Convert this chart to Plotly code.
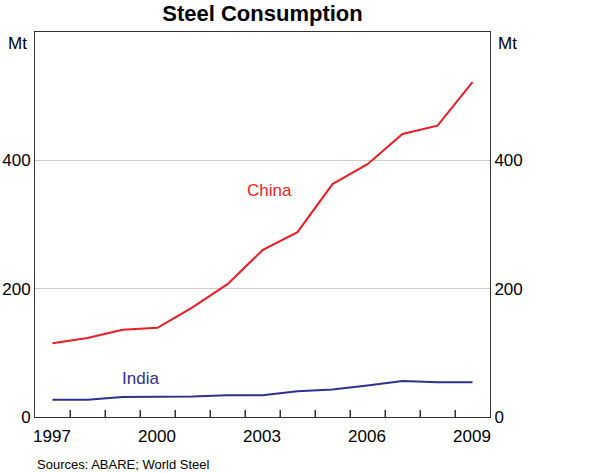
import plotly.graph_objects as go

years = [1997, 1998, 1999, 2000, 2001, 2002, 2003, 2004, 2005, 2006, 2007, 2008, 2009]
china = [115, 123, 136, 139, 171, 207, 260, 288, 363, 394, 441, 454, 522]
india = [27, 27, 31, 31, 32, 34, 34, 40, 43, 49, 56, 54, 54]
x_labels = ["1997", "2000", "2003", "2006", "2009"]
y_ticks = [0, 200, 400]

RED = "#ed1c24"
BLUE = "#2e3192"
FONT = "Liberation Sans, Arial, sans-serif"

xmid = [y + 0.5 for y in years]
xtext = [str(y) if str(y) in x_labels else "" for y in years]

fig = go.Figure()
fig.add_trace(go.Scatter(x=xmid, y=china, mode="lines", line=dict(color=RED, width=2),
                         showlegend=False, hoverinfo="skip"))
fig.add_trace(go.Scatter(x=xmid, y=india, mode="lines", line=dict(color=BLUE, width=2),
                         showlegend=False, hoverinfo="skip"))
fig.add_trace(go.Scatter(x=[xmid[0]], y=[0], yaxis="y2", mode="markers",
                         marker=dict(opacity=0), showlegend=False, hoverinfo="skip"))

plot_h = 473 - 32 - 56
tick_shapes = [
    dict(type="line", xref="x", yref="paper", x0=y, x1=y, y0=0, y1=7 / plot_h,
         line=dict(color="#333", width=1), layer="above")
    for y in years[1:]
]

fig.update_layout(
    width=600, height=473,
    margin=dict(l=35, r=110, t=32, b=56, autoexpand=False),
    paper_bgcolor="white", plot_bgcolor="white",
    font=dict(family=FONT, size=17, color="black"),
    title=dict(text="<b>Steel Consumption</b>", x=(35 + 490) / 2 / 600, xanchor="center",
               y=1 - 13 / 473, yanchor="middle", font=dict(size=22, family=FONT)),
    xaxis=dict(range=[1997, 2010], tickvals=years, ticktext=xtext,
               ticks="inside", ticklen=7, tickcolor="#333", tickwidth=1,
               ticklabelshift=17, ticklabelstandoff=4,
               showgrid=False, showline=True, linecolor="#333", linewidth=1,
               mirror=True, zeroline=False, tickfont=dict(size=17), automargin=False),
    yaxis=dict(range=[0, 600], tickvals=y_ticks, ticks="", showgrid=True, gridcolor="#cccccc",
               gridwidth=1, showline=True, linecolor="#333", linewidth=1, zeroline=False,
               tickfont=dict(size=17), automargin=False),
    yaxis2=dict(range=[0, 600], tickvals=y_ticks, overlaying="y", side="right", ticks="",
                showgrid=False, showline=True, linecolor="#333", linewidth=1, zeroline=False,
                tickfont=dict(size=17), automargin=False),
    shapes=tick_shapes,
    annotations=[
        dict(text="Mt", xref="paper", yref="paper", x=0, y=1, xanchor="right", yanchor="top",
             xshift=-6, yshift=0, showarrow=False, font=dict(size=17)),
        dict(text="Mt", xref="paper", yref="paper", x=1, y=1, xanchor="left", yanchor="top",
             xshift=6, showarrow=False, font=dict(size=17)),
        dict(text="China", x=2003.7, y=353, xref="x", yref="y", showarrow=False,
             font=dict(size=17, color=RED)),
        dict(text="India", x=2000.0, y=60, xref="x", yref="y", showarrow=False,
             font=dict(size=17, color=BLUE)),
        dict(text="Sources: ABARE; World Steel", xref="paper", yref="paper", x=0, y=0,
             xanchor="left", yanchor="middle", yshift=-(464 - 416.7), showarrow=False,
             font=dict(size=13)),
    ],
)

fig.write_html("out.html", config={"displayModeBar": False},
               post_script="document.body.style.margin='0px';")
